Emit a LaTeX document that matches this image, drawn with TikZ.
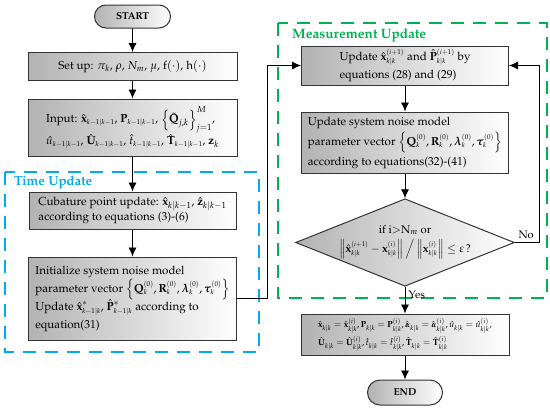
\documentclass[tikz,border=0pt]{standalone}
\usepackage[T1]{fontenc}
\usepackage{mathpazo}
\usepackage{amsmath}
\usepackage{bm}
\usetikzlibrary{calc}
\usetikzlibrary{arrows.meta}
\usetikzlibrary{shapes.geometric}
\usetikzlibrary{shapes.misc}
\definecolor{timeblue}{RGB}{0,172,236}
\definecolor{measgreen}{RGB}{0,178,80}
\newcommand{\tinyIdx}[1]{{\scriptscriptstyle #1}}
\newcommand{\noiseVector}{\left\{\mathbf{Q}_{\tinyIdx{k}}^{\tinyIdx{(0)}},\mathbf{R}_{\tinyIdx{k}}^{\tinyIdx{(0)}},\bm{\lambda}_{\tinyIdx{k}}^{\tinyIdx{(0)}},\bm{\tau}_{\tinyIdx{k}}^{\tinyIdx{(0)}}\right\}}
\newcommand{\prevIdx}{\tinyIdx{k-1|k-1}}

\begin{document}
\begin{tikzpicture}[x=1pt, y=-1pt]
    \tikzstyle{process box} = [draw=black!80, line width=1pt, left color=black!30, right color=white, align=left, inner sep=3pt, font=\fontsize{11.6}{18}\selectfont]
    \tikzstyle{terminal} = [rounded rectangle, draw=black!80, line width=1pt, left color=black!30, right color=white, inner sep=2pt, font=\fontsize{10}{12}\selectfont\bfseries]
    \tikzstyle{decision} = [diamond, draw=black!80, line width=1pt, left color=black!30, right color=white, align=center, inner sep=0pt, aspect=2.5, font=\fontsize{11.2}{19}\selectfont]
    \tikzstyle{flow arrow} = [-{Latex[length=9pt, width=8pt]}, line width=0.8pt]
    \tikzstyle{update frame} = [dash pattern=on 13pt off 9pt, line width=2.5pt]

    \useasboundingbox (0, 0) rectangle (550, 410);

    % dashed groups
    \draw[update frame, draw=timeblue] (5, 172) rectangle (259, 352);
    \draw[update frame, draw=measgreen] (278, 23) rectangle (547, 298);
    \node[anchor=west, inner sep=0pt, text=timeblue, font=\fontsize{13.2}{15}\selectfont\bfseries] (time label) at (14, 182.5) {Time Update};
    \node[anchor=west, inner sep=0pt, text=measgreen, font=\fontsize{13.6}{15}\selectfont\bfseries] (meas label) at (292, 35) {Measurement Update};

    % left column
    \node[terminal, minimum width=80, minimum height=23] (start) at (132.5, 16.5) {START};
    \node[process box, minimum width=209, minimum height=28] (setup) at (132.5, 66.5) {Set up: $\pi_{k}$, $\rho$, $N_{m}$, $\mu$, $\mathrm{f}(\cdot)$, $\mathrm{h}(\cdot)$};
    \node[process box, minimum width=209, minimum height=57] (input) at (132.5, 127.5) {Input: $\hat{\mathbf{x}}_{\prevIdx}$, $\mathbf{P}_{\prevIdx}$, $\left\{\tilde{\mathbf{Q}}_{j,k}\right\}_{j=1}^{M}$,\\
        $\hat{u}_{\prevIdx}$, $\hat{\mathbf{U}}_{\prevIdx}$, $\hat{t}_{\prevIdx}$, $\hat{\mathbf{T}}_{\prevIdx}$, $\mathbf{z}_{k}$};
    \node[process box, minimum width=207, minimum height=37, font=\fontsize{11.6}{14.5}\selectfont] (cubature) at (132.5, 210.5) {Cubature point update: $\hat{\mathbf{x}}_{k|k-1}$, $\hat{\mathbf{z}}_{k|k-1}$\\
        according to equations (3)-(6)};
    \node[process box, minimum width=208, minimum height=83] (init) at (132.5, 298.5) {Initialize system noise model\\
        parameter vector $\noiseVector$\\
        Update $\hat{\mathbf{x}}_{\tinyIdx{k-1|k}}^{*}$, $\hat{\mathbf{P}}_{\tinyIdx{k-1|k}}^{*}$ according to\\
        equation(31)};

    % right column
    \node[process box, minimum width=207, minimum height=39] (upd state) at (405, 65.5) {Update $\hat{\mathbf{x}}_{\tinyIdx{k|k}}^{\tinyIdx{(i+1)}}$ and $\hat{\mathbf{P}}_{\tinyIdx{k|k}}^{\tinyIdx{(i+1)}}$ by\\
        equations (28) and (29)};
    \node[process box, minimum width=207, minimum height=61, font=\fontsize{11.6}{20}\selectfont] (upd noise) at (405, 142.5) {Update system noise model\\
        parameter vector $\noiseVector$\\
        according to equations(32)-(41)};
    \node[decision, minimum width=190, minimum height=75] (check) at (405, 242.5) {if i$>$N$_{m}$ or\\
        $\left\|\hat{\mathbf{x}}_{\tinyIdx{k|k}}^{\tinyIdx{(i+1)}}-\mathbf{x}_{\tinyIdx{k|k}}^{\tinyIdx{(i)}}\right\|\Big/\left\|\mathbf{x}_{\tinyIdx{k|k}}^{\tinyIdx{(i)}}\right\|\le\varepsilon$\,?};
    \node[process box, minimum width=208, minimum height=41, font=\fontsize{8.8}{18}\selectfont] (result) at (405, 334.5) {$\hat{\mathbf{x}}_{k|k}=\hat{\mathbf{x}}_{k|k}^{(i)},\mathbf{P}_{k|k}=\mathbf{P}_{k|k}^{(i)},\hat{\bm{\alpha}}_{k|k}=\hat{\bm{\alpha}}_{k|k}^{(i)},\hat{u}_{k|k}=\hat{u}_{k|k}^{(i)}$,\\
        $\hat{\mathbf{U}}_{k|k}=\hat{\mathbf{U}}_{k|k}^{(i)},\hat{t}_{k|k}=\hat{t}_{k|k}^{(i)},\hat{\mathbf{T}}_{k|k}=\hat{\mathbf{T}}_{k|k}^{(i)}$};
    \node[terminal, minimum width=79, minimum height=25] (finish) at (405, 392.5) {END};

    % connectors
    \draw[flow arrow] (start) -- (setup);
    \draw[flow arrow] (setup) -- (input);
    \draw[flow arrow] (input) -- (cubature);
    \draw[flow arrow] (cubature) -- (init);
    \draw[flow arrow] (init.east) -- ++(30, 0) |- (upd state.west);
    \draw[flow arrow] (upd state) -- (upd noise);
    \draw[flow arrow] (upd noise) -- (check);
    \draw[flow arrow] (check.east) -- ++(25, 0) node[above, pos=0.45, font=\fontsize{11}{12}\selectfont] {No} |- (upd state.east);
    \draw[flow arrow] (check.south) -- (result.north) node[right, pos=0.3, font=\fontsize{11}{12}\selectfont] {Yes};
    \draw[flow arrow] (result) -- (finish);
\end{tikzpicture}
\end{document}
